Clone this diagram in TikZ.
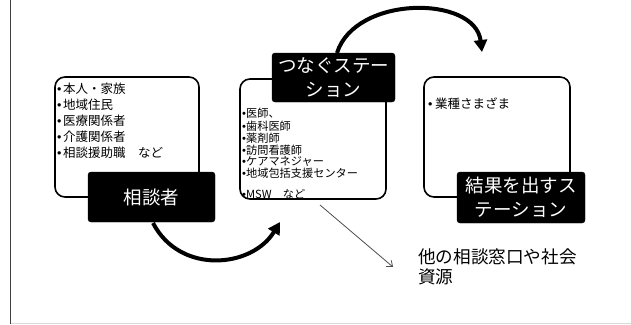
\documentclass[tikz,border=0pt]{standalone}
\usepackage{fontspec}
\setmainfont{Noto Sans CJK JP}
\newfontfamily\lat{Liberation Sans}
\usetikzlibrary{arrows.meta}
\newcommand{\bul}{{\lat •}}
\begin{document}
\begin{tikzpicture}[x=1pt,y=-1pt,
  whitebox/.style={draw=black,line width=1.6pt,rounded corners=10pt,fill=white},
  blackbox/.style={draw=black,fill=black,rounded corners=3pt},
  blacktext/.style={text=white,font=\fontsize{18.5}{24}\selectfont,align=center,inner sep=0pt},
  listA/.style={anchor=west,inner sep=0pt,font=\fontsize{12.5}{15}\selectfont},
  listB/.style={anchor=west,inner sep=0pt,font=\fontsize{11.2}{12}\selectfont},
  bigarrow/.style={line width=4pt,-{Triangle[length=12pt,width=13pt]}},
  thinarrow/.style={draw=black!70,line width=0.8pt,-{Straight Barb[length=5pt,width=8pt]}}]
\useasboundingbox (0,0) rectangle (631,324);
% frame lines
\draw[line width=1.5pt,black!75] (10.5,0) -- (10.5,324);
\draw[line width=1pt,black!15] (11,323.5) -- (631,323.5);

% box 1
\draw[whitebox] (55,77) rectangle (199,197);
\node[listA] (a1) at (57,89) {\bul\kern1.5pt 本人・家族};
\node[listA] (a2) at (57,105) {\bul\kern1.5pt 地域住民};
\node[listA] (a3) at (57,121) {\bul\kern1.5pt 医療関係者};
\node[listA] (a4) at (57,137) {\bul\kern1.5pt 介護関係者};
\node[listA] (a5) at (57,153) {\bul\kern1.5pt 相談援助職　など};
\draw[blackbox] (88,172) rectangle (215,222);
\node[blacktext] (s1) at (151.5,197) {相談者};

% box 2
\draw[whitebox] (240,79) rectangle (386,199);
\node[listB] (b1) at (242,113) {\bul 医師、};
\node[listB] (b2) at (242,126) {\bul 歯科医師};
\node[listB] (b3) at (242,138) {\bul 薬剤師};
\node[listB] (b4) at (242,150) {\bul 訪問看護師};
\node[listB] (b5) at (242,162) {\bul ケアマネジャー};
\node[listB] (b6) at (242,173.5) {\bul 地域包括支援センター};
\node[listB] (b7) at (242,194) {\bul MSW　など};
\draw[blackbox] (272,53) rectangle (395,102);
\node[blacktext] (s2) at (333.5,77.5) {つなぐステー\\ション};

% box 3
\draw[whitebox] (424,77) rectangle (570,197);
\node[listA] (c1) at (428,104) {\bul\kern2.5pt 業種さまざま};
\draw[blackbox] (457,172) rectangle (585,223);
\node[blacktext] (s3) at (521,197.5) {結果を出すス\\テーション};

% other resources
\node[anchor=west,inner sep=0pt,align=left,font=\fontsize{17.6}{20}\selectfont] (r) at (418,267) {他の相談窓口や社会\\資源};

% arrows
\coordinate (t0) at (337,53);
\coordinate (t1) at (482,52);
\draw[bigarrow] (t0) .. controls (355,-5) and (475,-5) .. (t1);
\coordinate (u0) at (153,223);
\coordinate (u1) at (280,222);
\draw[bigarrow] (u0) .. controls (180,275) and (252,268) .. (u1);
\coordinate (v0) at (320,205);
\coordinate (v1) at (393,267);
\draw[thinarrow] (v0) -- (v1);
\end{tikzpicture}
\end{document}
